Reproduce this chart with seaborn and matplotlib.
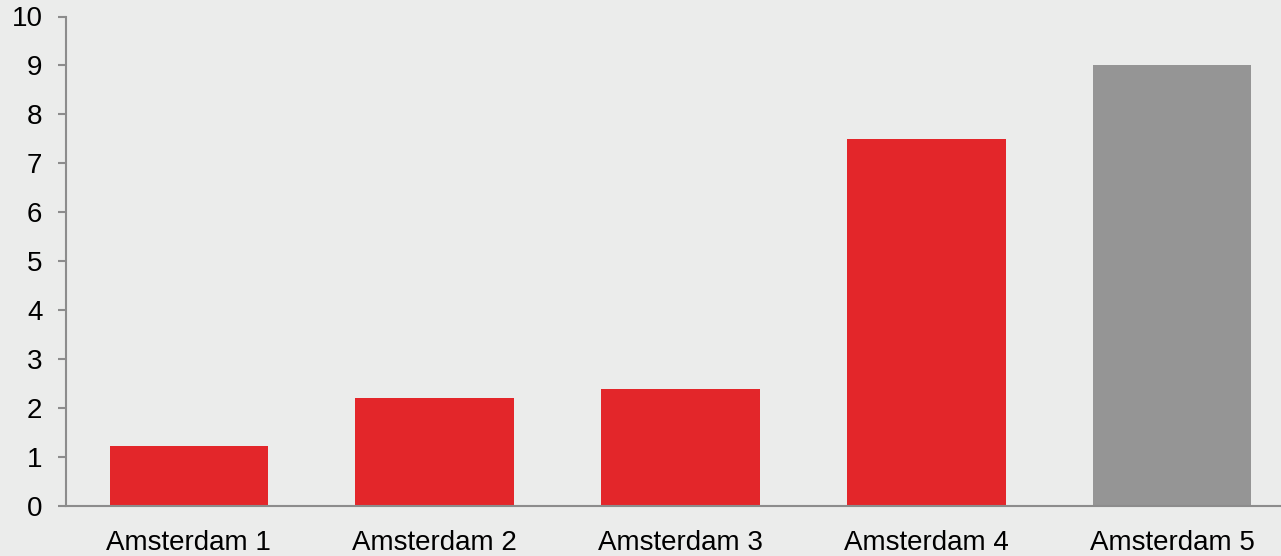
import matplotlib
matplotlib.use("Agg")
import matplotlib.pyplot as plt
import seaborn as sns
import pandas as pd

categories = ["Amsterdam 1", "Amsterdam 2", "Amsterdam 3", "Amsterdam 4", "Amsterdam 5"]
values = [1.22, 2.2, 2.4, 7.5, 9.0]
bar_colors = ["#E3262A", "#E3262A", "#E3262A", "#E3262A", "#959595"]

bg = "#EBECEB"
sns.set_theme(style="white")
plt.rcParams["font.family"] = ["Liberation Sans", "DejaVu Sans"]

fig = plt.figure(figsize=(12.81, 5.56), dpi=100, facecolor=bg)
ax = fig.add_axes([66 / 1281, 1 - 506 / 556, 1229 / 1281, (506 - 16.5) / 556])
ax.set_facecolor(bg)

df = pd.DataFrame({"cat": categories, "val": values})
sns.barplot(data=df, x="cat", y="val", hue="cat", palette=bar_colors, legend=False,
            width=0.645, ax=ax, saturation=1, edgecolor="none")

ax.set_xlim(-0.5, 4.5)
ax.set_ylim(0, 10)
ax.set_yticks(range(0, 11))
ax.set_xlabel("")
ax.set_ylabel("")
for s in ["top", "right"]:
    ax.spines[s].set_visible(False)
for s in ["left", "bottom"]:
    ax.spines[s].set_color("#8C8C8C")
    ax.spines[s].set_linewidth(1.5)
ax.tick_params(axis="y", left=True, length=6, width=1.5, color="#8C8C8C", labelsize=20, pad=11, labelcolor="black")
ax.tick_params(axis="x", bottom=False, labelsize=20, pad=11, labelcolor="black")
ax.grid(False)

fig.savefig("out.png", dpi=100, facecolor=bg)
